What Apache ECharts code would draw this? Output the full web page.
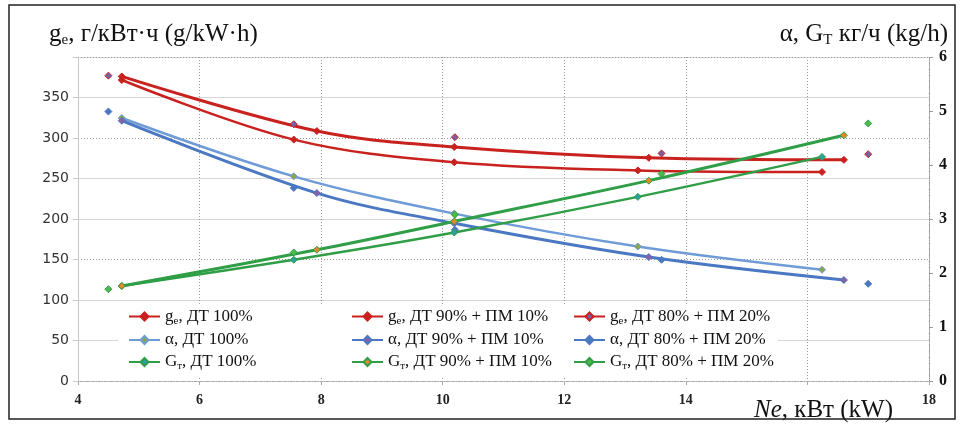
<!DOCTYPE html>
<html>
<head>
<meta charset="utf-8">
<script src="https://cdn.jsdelivr.net/npm/echarts@6/dist/echarts.min.js"></script>
<style>
  html, body { margin: 0; padding: 0; background: #fff; }
  #chart { width: 965px; height: 428px; }
</style>
</head>
<body>
<div id="chart"></div>
<script>
// ДТ 100%
const xDT100 = [4.72, 7.55, 10.19, 13.21, 16.24];
const geDT100 = [371.6, 298, 270, 260, 258];
const aDT100 = [4.87, 3.79, 3.10, 2.49, 2.06];
const gtDT100 = [1.76, 2.245, 2.75, 3.41, 4.15];

// ДТ 90% + ПМ 10%
const xPM10 = [4.72, 7.93, 10.19, 13.39, 16.6];
const gePM10 = [376, 308.6, 289, 275.6, 273];
const aPM10 = [4.82, 3.48, 2.92, 2.295, 1.87];
const gtPM10 = [1.76, 2.43, 2.955, 3.71, 4.55];

// ДТ 80% + ПМ 20% (points only)
const xPM20 = [4.5, 7.55, 10.2, 13.6, 17.0];
const gePM20 = [377, 317, 301, 281, 280];
const aPM20 = [4.99, 3.575, 2.80, 2.245, 1.80];
const gtPM20 = [1.70, 2.38, 3.08, 3.84, 4.77];

const xTicksHidden = [16];

const pairs = (xs, ys) => xs.map((x, i) => [x, ys[i]]);

const serif = '"Liberation Serif", "DejaVu Serif", serif';

const RED = '#c9211e';
const BLUE = '#4a78c2';
const BLUE_L = '#6f9bd8';
const GREEN = '#2f9e46';

function lineSeries(name, xs, ys, axis, color, marker, width, hidden) {
    return {
        name: name,
        type: 'line',
        yAxisIndex: axis,
        data: pairs(xs, ys),
        smooth: 0.35,
        symbol: 'diamond',
        symbolSize: 7,
        lineStyle: { color: color, width: width, opacity: hidden ? 0 : 1 },
        itemStyle: { color: marker, borderColor: color, borderWidth: 1 },
        emphasis: { disabled: true },
        z: 3
    };
}

const series = [
    lineSeries('ge, ДТ 100%', xDT100, geDT100, 0, RED, RED, 2.5),
    lineSeries('ge, ДТ 90% + ПМ 10%', xPM10, gePM10, 0, RED, RED, 3),
    lineSeries('ge, ДТ 80% + ПМ 20%', xPM20, gePM20, 0, RED, '#7a5fa8', 2.5, true),
    lineSeries('α, ДТ 100%', xDT100, aDT100, 1, BLUE_L, '#8aa84a', 2.5),
    lineSeries('α, ДТ 90% + ПМ 10%', xPM10, aPM10, 1, BLUE, '#8a5fa8', 3),
    lineSeries('α, ДТ 80% + ПМ 20%', xPM20, aPM20, 1, BLUE, BLUE, 3, true),
    lineSeries('GТ, ДТ 100%', xDT100, gtDT100, 1, GREEN, '#2aa0a0', 2.5),
    lineSeries('GТ, ДТ 90% + ПМ 10%', xPM10, gtPM10, 1, GREEN, '#e08a2a', 3),
    lineSeries('GТ, ДТ 80% + ПМ 20%', xPM20, gtPM20, 1, GREEN, '#4cbb4c', 3, true)
];

function legendLabel(n) {
    if (n.indexOf('ge') === 0) return '{t|g}{s|e}{t|' + n.slice(2) + '}';
    if (n.indexOf('GТ') === 0) return '{t|G}{s|т}{t|' + n.slice(2) + '}';
    return '{t|' + n + '}';
}

const legendText = {
    color: '#111',
    rich: {
        t: { fontFamily: serif, fontSize: 17, color: '#111' },
        s: { fontFamily: serif, fontSize: 11, color: '#111', padding: [9, 0, 0, 0] }
    }
};

function legendCol(left, names) {
    return {
        orient: 'vertical',
        left: left,
        top: 308,
        itemGap: 5,
        itemWidth: 31,
        itemHeight: 10,
        padding: 0,
        selectedMode: false,
        formatter: legendLabel,
        textStyle: legendText,
        data: names.map(n => ({ name: n, lineStyle: { opacity: 1 } }))
    };
}

const titleRich = {
    a: { fontFamily: serif, fontSize: 25, fontWeight: 'normal', color: '#111' },
    i: { fontFamily: serif, fontSize: 25, fontWeight: 'normal', fontStyle: 'italic', color: '#111' },
    s: { fontFamily: serif, fontSize: 15, fontWeight: 'normal', color: '#111', padding: [13, 0, 0, 0] }
};

const chart = echarts.init(document.getElementById('chart'));

const option = {
    backgroundColor: '#fff',
    animation: false,
    title: [
        {
            text: '{a|g}{s|e}{a|, г/кВт·ч (g/kW·h)}',
            left: 44, top: 15,
            textStyle: { fontWeight: 'normal', rich: titleRich }
        },
        {
            text: '{a|α, G}{s|Т}{a| кг/ч (kg/h)}',
            right: 12, top: 15,
            textStyle: { fontWeight: 'normal', rich: titleRich }
        },
        {
            text: '{i|Ne}{a|, кВт (kW)}',
            left: 749, top: 393,
            textStyle: { fontWeight: 'normal', rich: titleRich }
        }
    ],
    legend: [
        legendCol(128, ['ge, ДТ 100%', 'α, ДТ 100%', 'GТ, ДТ 100%']),
        legendCol(351, ['ge, ДТ 90% + ПМ 10%', 'α, ДТ 90% + ПМ 10%', 'GТ, ДТ 90% + ПМ 10%']),
        legendCol(573, ['ge, ДТ 80% + ПМ 20%', 'α, ДТ 80% + ПМ 20%', 'GТ, ДТ 80% + ПМ 20%'])
    ],
    graphic: [
        {
            type: 'rect',
            shape: { x: 9, y: 5, width: 946, height: 414 },
            style: { fill: 'none', stroke: '#222', lineWidth: 1.5 },
            z: 10
        },
        {
            type: 'rect',
            shape: { x: 118, y: 305, width: 660, height: 73 },
            style: { fill: '#fff' },
            z: 1
        }
    ],
    grid: { left: 78, right: 36, top: 57, bottom: 47 },
    xAxis: {
        type: 'value',
        min: 4, max: 18, interval: 2,
        axisLine: { lineStyle: { color: '#aaa', type: [1, 1] } },
        axisTick: { show: true, length: 4, lineStyle: { color: '#aaa' } },
        axisLabel: {
            margin: 12,
            fontFamily: serif, fontSize: 14, fontWeight: 'bold', color: '#222',
            formatter: v => (xTicksHidden.indexOf(v) >= 0 ? '' : String(v))
        },
        splitLine: { show: true, lineStyle: { color: '#999', type: [1, 2] } }
    },
    yAxis: [
        {
            type: 'value',
            min: 0, max: 400, interval: 50,
            axisLine: { show: true, lineStyle: { color: '#c8c8c8' } },
            axisTick: { show: true, length: 5, lineStyle: { color: '#c8c8c8' } },
            axisLabel: {
                margin: 9,
                fontFamily: '"DejaVu Sans", Verdana, sans-serif', fontSize: 14, color: '#333',
                formatter: v => (v === 400 ? '' : String(v))
            },
            splitLine: { show: true, lineStyle: { color: ['transparent', '#d6d6d6', '#d6d6d6'], width: 1.2 } }
        },
        {
            type: 'value',
            min: 0, max: 6, interval: 1,
            position: 'right',
            axisLine: { show: true, lineStyle: { color: '#999', type: [1, 1] } },
            axisTick: { show: true, length: 4, lineStyle: { color: '#999' } },
            axisLabel: {
                margin: 10,
                fontFamily: serif, fontSize: 16, fontWeight: 'bold', color: '#111'
            },
            splitLine: { show: false }
        },
        {
            type: 'value',
            min: 0, max: 400, interval: 150,
            position: 'left',
            axisLine: { show: false },
            axisTick: { show: false },
            axisLabel: { show: false },
            splitLine: { show: true, lineStyle: { color: '#999', type: [1, 2] } }
        }
    ],
    series: series
};

chart.setOption(option);
</script>
</body>
</html>
